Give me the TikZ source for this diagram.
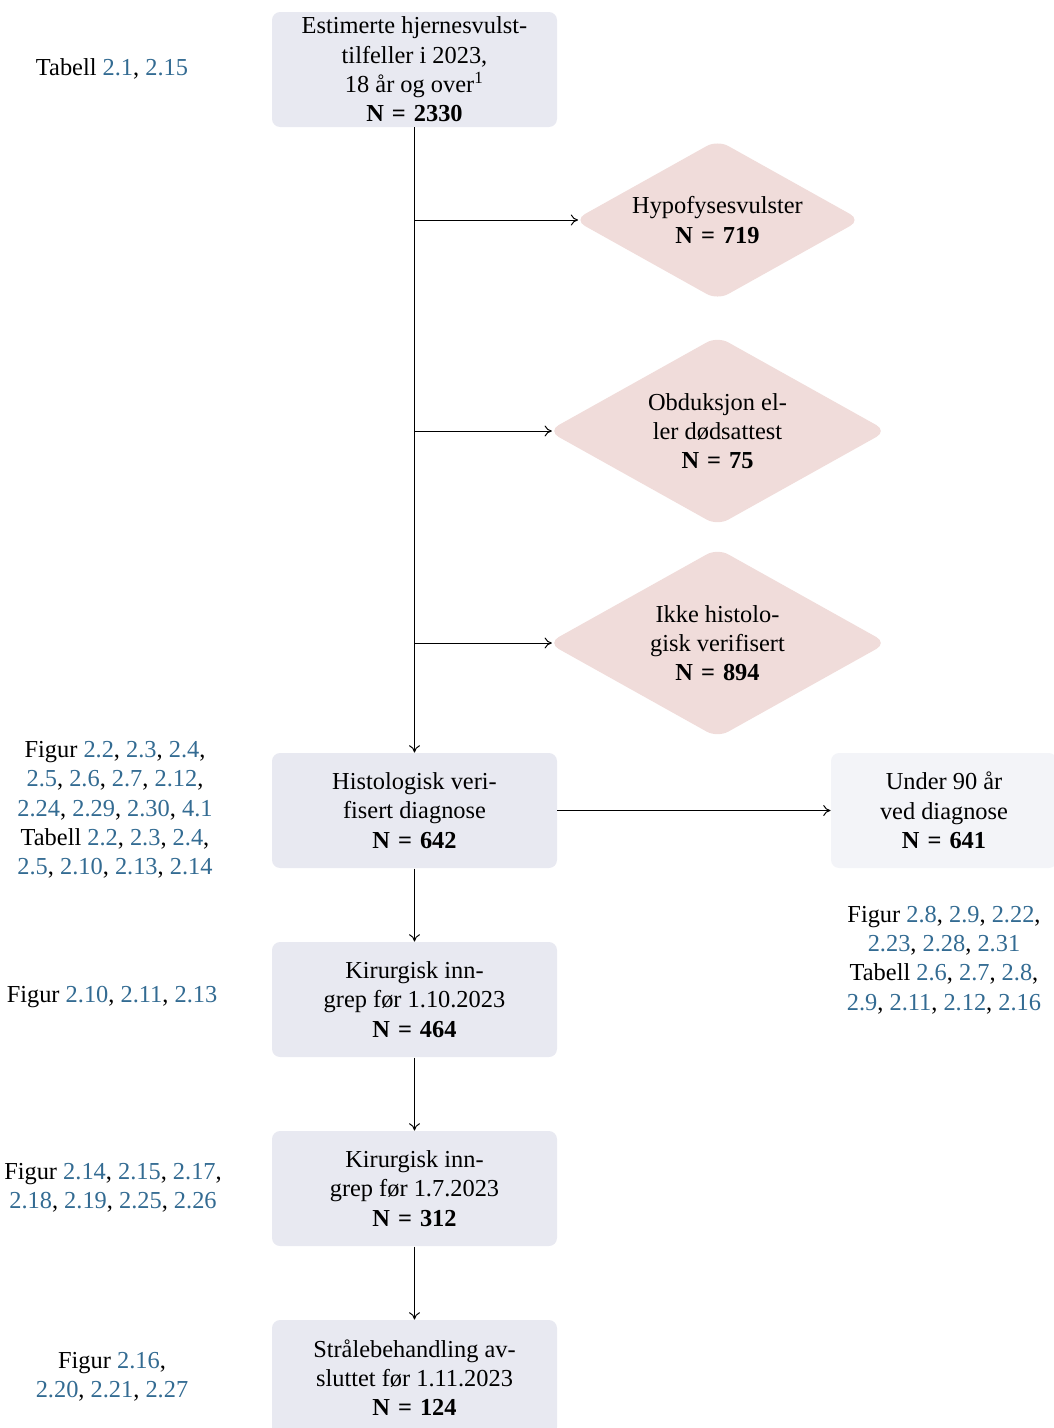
\documentclass[tikz,border=0pt]{standalone}
\usepackage{fontspec}
\setmainfont{Liberation Serif}
\usetikzlibrary{shapes.geometric,arrows.meta}
\definecolor{boxfill}{HTML}{E8E9F1}
\definecolor{boxlight}{HTML}{F3F4F8}
\definecolor{diafill}{HTML}{F0DCDA}
\definecolor{linkblue}{HTML}{336B92}
\newcommand{\lk}[1]{\textcolor{linkblue}{#1}}
\newcommand{\NN}[1]{\textbf{N\hspace{0.33em}=\hspace{0.33em}#1}}
\tikzset{
  flowbox/.style={fill=boxfill, rounded corners=3.3pt, minimum width=116.85pt, minimum height=47.15pt, align=center, inner sep=0pt, font=\fontsize{10}{12}\selectfont},
  sidebox/.style={flowbox, fill=boxlight, minimum width=92.66pt},
  diabox/.style={diamond, shape aspect=1.79, fill=diafill, rounded corners=5pt, inner sep=0pt, outer sep=0pt, align=center, font=\fontsize{10}{12}\selectfont},
  reftext/.style={align=center, inner sep=0pt, font=\fontsize{10}{12}\selectfont},
  conn/.style={draw, line width=0.4pt, -{To[length=3pt,width=4.5pt]}},
  todia/.style={conn, shorten >=-1.6pt},
}
\begin{document}
\begin{tikzpicture}[x=0.41pt,y=-0.41pt]
\useasboundingbox (0,0) rectangle (1054,1428);
% main boxes
\node[flowbox] (b1) at (414.5,69.5) {Estimerte hjernesvulst-\\tilfeller i 2023,\\18 år og over\textsuperscript{1}\\\NN{2330}};
\node[flowbox] (b2) at (414.5,810.5) {Histologisk veri-\\fisert diagnose\\\NN{642}};
\node[flowbox] (b3) at (414.5,999.5) {Kirurgisk inn-\\grep før 1.10.2023\\\NN{464}};
\node[flowbox] (b4) at (414.5,1188.5) {Kirurgisk inn-\\grep før 1.7.2023\\\NN{312}};
\node[flowbox] (b5) at (414.5,1377.5) {Strålebehandling av-\\sluttet før 1.11.2023\\\NN{124}};
\node[sidebox] (r1) at (944,810.5) {Under 90 år\\ved diagnose\\\NN{641}};
% diamonds
\node[diabox, minimum width=117.5pt, minimum height=65.6pt] (d1) at (717.5,220) {Hypofysesvulster\\\NN{719}};
\node[diabox, minimum width=139pt, minimum height=77.6pt] (d2) at (717.5,431) {Obduksjon el-\\ler dødsattest\\\NN{75}};
\node[diabox, minimum width=139pt, minimum height=77.6pt] (d3) at (717.5,643) {Ikke histolo-\\gisk verifisert\\\NN{894}};
% branch points
\coordinate (c1) at (414.5,220);
\coordinate (c2) at (414.5,431);
\coordinate (c3) at (414.5,643);
% connectors
\draw[conn] (b1.south) -- (b2.north);
\draw[todia] (c1) -- (d1.west);
\draw[todia] (c2) -- (d2.west);
\draw[todia] (c3) -- (d3.west);
\draw[conn] (b2.east) -- (r1.west);
\draw[conn] (b2.south) -- (b3.north);
\draw[conn] (b3.south) -- (b4.north);
\draw[conn] (b4.south) -- (b5.north);
% reference texts
\node[reftext] (t1) at (112,69) {Tabell \lk{2.1}, \lk{2.15}};
\node[reftext] (t2) at (115,810) {Figur \lk{2.2}, \lk{2.3}, \lk{2.4},\\\lk{2.5}, \lk{2.6}, \lk{2.7}, \lk{2.12},\\\lk{2.24}, \lk{2.29}, \lk{2.30}, \lk{4.1}\\Tabell \lk{2.2}, \lk{2.3}, \lk{2.4},\\\lk{2.5}, \lk{2.10}, \lk{2.13}, \lk{2.14}};
\node[reftext] (t3) at (112,997) {Figur \lk{2.10}, \lk{2.11}, \lk{2.13}};
\node[reftext] (t4) at (113,1188) {Figur \lk{2.14}, \lk{2.15}, \lk{2.17},\\\lk{2.18}, \lk{2.19}, \lk{2.25}, \lk{2.26}};
\node[reftext] (t5) at (112,1377) {Figur \lk{2.16},\\\lk{2.20}, \lk{2.21}, \lk{2.27}};
\node[reftext] (t6) at (944,960) {Figur \lk{2.8}, \lk{2.9}, \lk{2.22},\\\lk{2.23}, \lk{2.28}, \lk{2.31}\\Tabell \lk{2.6}, \lk{2.7}, \lk{2.8},\\\lk{2.9}, \lk{2.11}, \lk{2.12}, \lk{2.16}};
\end{tikzpicture}
\end{document}
